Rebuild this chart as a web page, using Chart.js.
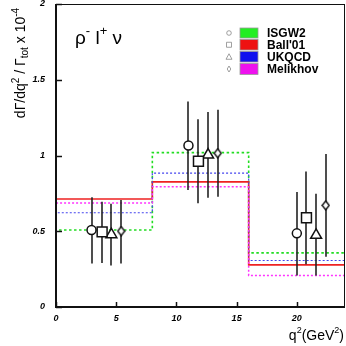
<!DOCTYPE html>
<html>
<head>
<meta charset="utf-8">
<script src="https://cdn.jsdelivr.net/npm/chart.js@4.4.0/dist/chart.umd.min.js"></script>
<style>
  html, body { margin: 0; padding: 0; background: #fff; }
  #wrap { width: 346px; height: 346px; position: relative; }
</style>
</head>
<body>
<div id="wrap"><canvas id="c"></canvas></div>
<script>
// bin edges in q^2 (GeV^2)
const binEdges = [0, 8, 16, 24];

// model predictions per bin
const isgw2    = [0.508, 1.019, 0.357];
const ball01   = [0.713, 0.826, 0.278];
const ukqcd    = [0.622, 0.884, 0.307];
const melikhov = [0.686, 0.794, 0.208];

// measurements (one marker style per model extraction)
const circX = [2.95, 11.0, 20.0];
const circY = [0.508, 1.066, 0.486];
const circLo = [0.287, 0.772, 0.208];
const circHi = [0.724, 1.357, 0.759];

const sqX = [3.83, 11.83, 20.8];
const sqY = [0.496, 0.962, 0.589];
const sqLo = [0.291, 0.684, 0.283];
const sqHi = [0.695, 1.24, 0.894];

const triX = [4.6, 12.63, 21.6];
const triY = [0.478, 1.004, 0.474];
const triLo = [0.274, 0.721, 0.208];
const triHi = [0.682, 1.287, 0.748];

const diaX = [5.41, 13.43, 22.4];
const diaY = [0.501, 1.015, 0.671];
const diaLo = [0.287, 0.728, 0.331];
const diaHi = [0.706, 1.302, 1.01];

const yTicks = [0, 0.5, 1, 1.5, 2];
const xTicks = [0, 5, 10, 15, 20];

const legendNames = ['ISGW2', "Ball'01", 'UKQCD', 'Melikhov'];
const legendColors = ['#22ee22', '#ee1111', '#1111ee', '#ee11ee'];

const FONT = '"Liberation Sans", Arial, Helvetica, sans-serif';

// step outline of a histogram, closed down to zero at both ends
function stepData(vals) {
  const pts = [{ x: binEdges[0], y: 0 }];
  vals.forEach((v, i) => {
    pts.push({ x: binEdges[i], y: v });
    pts.push({ x: binEdges[i + 1], y: v });
  });
  pts.push({ x: binEdges[binEdges.length - 1], y: 0 });
  return pts;
}

const pts = (xs, ys) => xs.map((x, i) => ({ x, y: ys[i] }));

// narrow diamond marker
function diamondImg() {
  const c = document.createElement('canvas');
  c.width = 9; c.height = 11;
  const g = c.getContext('2d');
  g.beginPath();
  g.moveTo(4.5, 1); g.lineTo(8, 5.5); g.lineTo(4.5, 10); g.lineTo(1, 5.5); g.closePath();
  g.fillStyle = '#fff'; g.fill();
  g.lineWidth = 1.4; g.strokeStyle = '#111'; g.stroke();
  return c;
}

function markerSet(xs, ys, style, radius) {
  return {
    type: 'scatter',
    data: pts(xs, ys),
    pointStyle: style,
    pointRadius: radius,
    pointBackgroundColor: '#fff',
    pointBorderColor: '#111',
    pointBorderWidth: 1.5,
    showLine: false
  };
}

function histSet(vals, color, dash, width) {
  return {
    type: 'line',
    data: stepData(vals),
    borderColor: color,
    borderWidth: width,
    borderDash: dash,
    pointRadius: 0,
    tension: 0,
    fill: false
  };
}

// draw text runs with super/subscripts starting at x, baseline y
function drawRuns(ctx, runs, x, y, align) {
  let total = 0;
  runs.forEach(r => { ctx.font = r.font; total += ctx.measureText(r.t).width; });
  let cx = align === 'center' ? x - total / 2 : (align === 'right' ? x - total : x);
  ctx.textAlign = 'left';
  ctx.textBaseline = 'alphabetic';
  runs.forEach(r => {
    ctx.font = r.font;
    ctx.fillText(r.t, cx, y + (r.dy || 0));
    cx += ctx.measureText(r.t).width;
  });
}

const errorBars = {
  id: 'errorBars',
  beforeDatasetDraw(ci, args) {
    if (args.index !== 3) return;
    const { ctx, scales: { x, y } } = ci;
    const sets = [[circX, circLo, circHi], [sqX, sqLo, sqHi], [triX, triLo, triHi], [diaX, diaLo, diaHi]];
    ctx.save();
    ctx.strokeStyle = '#222';
    ctx.lineWidth = 1.6;
    sets.forEach(([xs, lo, hi]) => {
      xs.forEach((v, i) => {
        const px = Math.round(x.getPixelForValue(v));
        ctx.beginPath();
        ctx.moveTo(px, y.getPixelForValue(lo[i]));
        ctx.lineTo(px, y.getPixelForValue(hi[i]));
        ctx.stroke();
      });
    });
    ctx.restore();
  }
};

const frameAndLabels = {
  id: 'frameAndLabels',
  afterDraw(ci) {
    const { ctx, chartArea: ca, scales: { x, y } } = ci;
    ctx.save();
    // frame
    ctx.strokeStyle = '#111';
    ctx.lineWidth = 1;
    ctx.strokeRect(ca.left, ca.top + 0.5, ca.right - ca.left - 0.5, ca.bottom - ca.top);
    ctx.lineWidth = 2;
    ctx.beginPath();
    ctx.moveTo(ca.left, ca.top); ctx.lineTo(ca.left, ca.bottom); ctx.lineTo(ca.right, ca.bottom);
    ctx.stroke();
    // inward ticks
    ctx.lineWidth = 1.5;
    yTicks.forEach(v => {
      const py = Math.round(y.getPixelForValue(v)) + 0.5;
      ctx.beginPath(); ctx.moveTo(ca.left, py); ctx.lineTo(ca.left + 6, py); ctx.stroke();
    });
    xTicks.forEach(v => {
      const px = Math.round(x.getPixelForValue(v)) + 0.5;
      ctx.beginPath(); ctx.moveTo(px, ca.bottom); ctx.lineTo(px, ca.bottom - 5); ctx.stroke();
    });

    ctx.fillStyle = '#000';
    // channel label
    drawRuns(ctx, [
      { t: '\u03C1', font: `19px ${FONT}` },
      { t: '-', font: `13px ${FONT}`, dy: -9 },
      { t: ' l', font: `19px ${FONT}` },
      { t: '+', font: `13px ${FONT}`, dy: -9 },
      { t: ' \u03BD', font: `19px ${FONT}` }
    ], 75, 44, 'left');

    // x title
    drawRuns(ctx, [
      { t: 'q', font: `14px ${FONT}` },
      { t: '2', font: `9px ${FONT}`, dy: -7 },
      { t: '(GeV', font: `14px ${FONT}` },
      { t: '2', font: `9px ${FONT}`, dy: -7 },
      { t: ')', font: `14px ${FONT}` }
    ], 344, 340, 'right');

    // y title
    ctx.save();
    ctx.translate(25, 63);
    ctx.rotate(-Math.PI / 2);
    drawRuns(ctx, [
      { t: 'd\u0393/dq', font: `14px ${FONT}` },
      { t: '2', font: `10px ${FONT}`, dy: -6 },
      { t: ' / \u0393', font: `14px ${FONT}` },
      { t: 'tot', font: `10px ${FONT}`, dy: 3 },
      { t: ' x 10', font: `14px ${FONT}` },
      { t: '-4', font: `10px ${FONT}`, dy: -6 }
    ], 0, 0, 'center');
    ctx.restore();

    // legend
    const rowY = [28, 39.5, 51.5, 63.5];
    const rowH = [10, 10.5, 10.5, 11];
    rowY.forEach((ty, i) => {
      ctx.fillStyle = legendColors[i];
      ctx.fillRect(240, ty, 18, rowH[i]);
      ctx.strokeStyle = '#999';
      ctx.lineWidth = 0.8;
      ctx.strokeRect(240, ty, 18, rowH[i]);
      ctx.fillStyle = '#000';
      ctx.font = `bold 12px ${FONT}`;
      ctx.textAlign = 'left';
      ctx.textBaseline = 'middle';
      ctx.fillText(legendNames[i], 267, ty + rowH[i] / 2 + 0.5);
      // small marker
      const mx = 229, my = ty + rowH[i] / 2;
      ctx.strokeStyle = '#888';
      ctx.lineWidth = 0.8;
      ctx.beginPath();
      if (i === 0) ctx.arc(mx, my, 2.3, 0, Math.PI * 2);
      else if (i === 1) ctx.rect(mx - 2.5, my - 2.5, 5, 5);
      else if (i === 2) { ctx.moveTo(mx, my - 3); ctx.lineTo(mx + 3, my + 2.5); ctx.lineTo(mx - 3, my + 2.5); ctx.closePath(); }
      else { ctx.moveTo(mx, my - 3); ctx.lineTo(mx + 1.8, my); ctx.lineTo(mx, my + 3); ctx.lineTo(mx - 1.8, my); ctx.closePath(); }
      ctx.stroke();
    });
    ctx.restore();
  }
};

const zeroPad = s => { s.paddingTop = 0; s.paddingBottom = 0; s.paddingLeft = 0; s.paddingRight = 0; };

new Chart(document.getElementById('c'), {
  data: {
    datasets: [
      markerSet(circX, circY, 'circle', 4.5),
      markerSet(sqX, sqY, 'rect', 7),
      markerSet(triX, triY, 'triangle', 6.3),
      markerSet(diaX, diaY, diamondImg(), 5),
      histSet(melikhov, '#ff33ff', [2, 2], 1.5),
      histSet(ukqcd, '#4444ee', [2, 2], 1.2),
      histSet(ball01, '#ee2222', [], 1.6),
      histSet(isgw2, '#22dd22', [2.5, 2.5], 1.6)
    ]
  },
  options: {
    responsive: true,
    maintainAspectRatio: false,
    animation: false,
    layout: { autoPadding: false, padding: { top: 4, right: 1, left: 0, bottom: 0 } },
    scales: {
      x: {
        type: 'linear', min: 0, max: 24,
        grid: { display: false, tickLength: 0 }, border: { display: false },
        afterFit: s => { s.height = 39; zeroPad(s); },
        afterBuildTicks: s => { s.ticks = xTicks.map(v => ({ value: v })); },
        ticks: { padding: 6, color: '#000', maxRotation: 0, callback: v => String(v),
                 font: { family: FONT, size: 9, style: 'italic', weight: 'bold' } }
      },
      y: {
        type: 'linear', min: 0, max: 2,
        grid: { display: false, tickLength: 0 }, border: { display: false },
        afterFit: s => { s.width = 56; zeroPad(s); },
        afterBuildTicks: s => { s.ticks = yTicks.map(v => ({ value: v })); },
        ticks: { padding: 11, color: '#000', callback: v => String(v),
                 font: { family: FONT, size: 9, style: 'italic', weight: 'bold' } }
      }
    },
    plugins: { legend: { display: false }, tooltip: { enabled: false } }
  },
  plugins: [errorBars, frameAndLabels]
});
</script>
</body>
</html>
